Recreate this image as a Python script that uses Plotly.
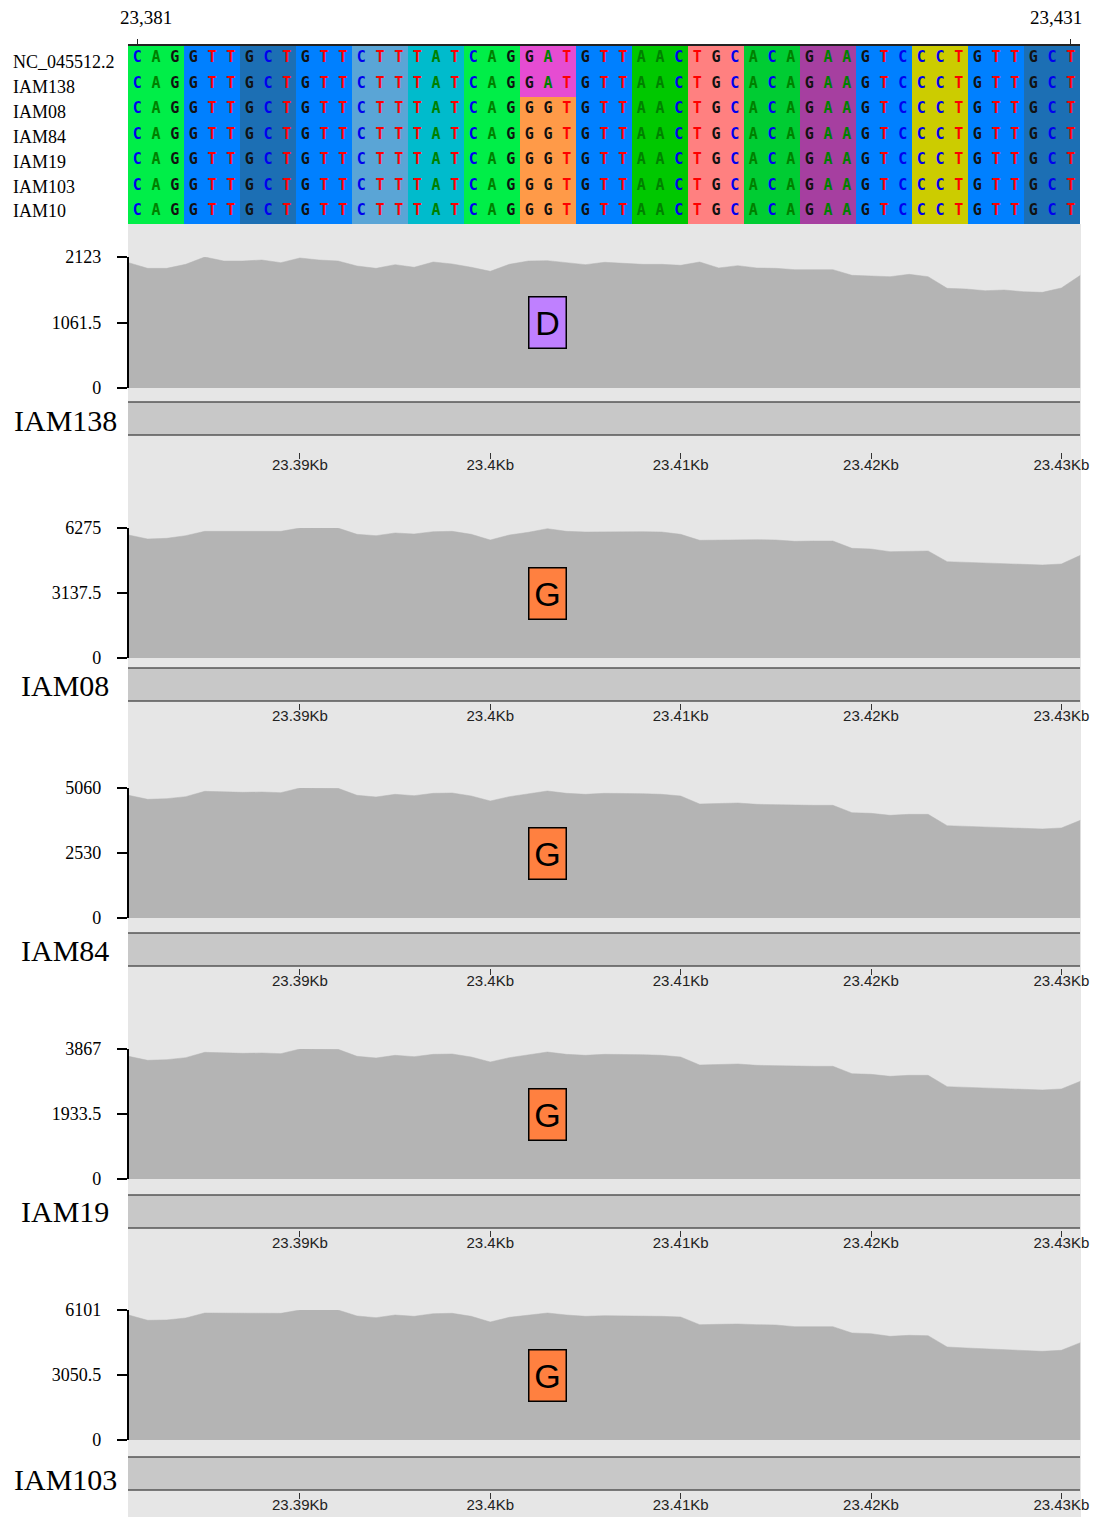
import plotly.graph_objects as go

W, H = 1096, 1517

# ---------------- data ----------------
start_pos = 23381
end_pos = 23431
row_names = ["NC_045512.2", "IAM138", "IAM08", "IAM84", "IAM19", "IAM103", "IAM10"]
ref_seq = "CAGGTTGCTGTTCTTTATCAGGATGTTAACTGCACAGAAGTCCCTGTTGCT"
alt_seq = "CAGGTTGCTGTTCTTTATCAGGGTGTTAACTGCACAGAAGTCCCTGTTGCT"
row_seqs = [ref_seq, ref_seq, alt_seq, alt_seq, alt_seq, alt_seq, alt_seq]

panel_names = ["IAM138", "IAM08", "IAM84", "IAM19", "IAM103"]
panel_max = [2123, 6275, 5060, 3867, 6101]
variant_pos = 23403
variant_aa = ["D", "G", "G", "G", "G"]
kb_ticks = [23390, 23400, 23410, 23420, 23430]
kb_labels = ["23.39Kb", "23.4Kb", "23.41Kb", "23.42Kb", "23.43Kb"]

cov_iam138 = [2031, 1939, 1939, 2004, 2123, 2058, 2058, 2074, 2031, 2107, 2074, 2058, 1977,
              1939, 1999, 1956, 2042, 2010, 1956, 1891, 2004, 2058, 2064, 2031, 1999, 2037,
              2020, 2004, 2004, 1988, 2042, 1945, 1983, 1945, 1939, 1918, 1918, 1918, 1826,
              1815, 1804, 1842, 1804, 1615, 1604, 1577, 1588, 1561, 1550, 1621, 1826]
cov_iam08 = [5937, 5744, 5776, 5905, 6114, 6114, 6114, 6114, 6114, 6275, 6270, 6270, 5969,
             5905, 6034, 5985, 6098, 6114, 5969, 5696, 5937, 6066, 6243, 6114, 6082, 6098,
             6098, 6098, 6082, 5969, 5680, 5696, 5728, 5712, 5696, 5631, 5647, 5647, 5294,
             5261, 5133, 5165, 5165, 4650, 4618, 4586, 4570, 4537, 4489, 4537, 4956]
cov_iam84 = [4775, 4619, 4645, 4723, 4930, 4904, 4891, 4904, 4878, 5060, 5060, 5047, 4775,
             4710, 4814, 4762, 4852, 4865, 4749, 4554, 4723, 4827, 4943, 4852, 4814, 4852,
             4852, 4840, 4814, 4749, 4437, 4463, 4476, 4424, 4411, 4373, 4386, 4386, 4100,
             4074, 3996, 4035, 4035, 3594, 3568, 3543, 3530, 3504, 3465, 3504, 3802]
cov_iam19 = [3649, 3530, 3550, 3609, 3768, 3748, 3738, 3748, 3728, 3867, 3867, 3857, 3649,
             3599, 3679, 3639, 3708, 3718, 3629, 3480, 3609, 3689, 3777, 3708, 3679, 3708,
             3708, 3699, 3679, 3629, 3391, 3411, 3421, 3381, 3371, 3342, 3352, 3352, 3133,
             3113, 3054, 3084, 3084, 2747, 2727, 2708, 2698, 2678, 2648, 2678, 2906]
cov_iam103 = [5866, 5616, 5632, 5726, 5960, 5960, 5960, 5960, 5945, 6101, 6101, 6101, 5819,
              5741, 5866, 5804, 5929, 5945, 5804, 5538, 5757, 5851, 5960, 5866, 5804, 5835,
              5835, 5819, 5804, 5773, 5413, 5429, 5444, 5413, 5397, 5319, 5319, 5319, 5022,
              4991, 4865, 4912, 4897, 4365, 4319, 4271, 4224, 4193, 4162, 4209, 4568]
coverage = [cov_iam138, cov_iam08, cov_iam84, cov_iam19, cov_iam103]

# ---------------- styles ----------------
codon_table = {"CAG": "Q", "GTT": "V", "GCT": "A", "CTT": "L", "TAT": "Y", "GAT": "D",
               "GGT": "G", "AAC": "N", "TGC": "C", "ACA": "T", "GAA": "E", "GTC": "V",
               "CCT": "P"}
aa_colors = {"Q": "#00ee48", "V": "#0080ff", "A": "#1c6fb4", "L": "#5aa5d6", "Y": "#00bbcc",
             "D": "#e64cd2", "G": "#ff9a48", "N": "#00c800", "C": "#ff8080", "T": "#00cc33",
             "E": "#a63fa0", "P": "#cccc00"}
nt_colors = {"A": "#008000", "C": "#0000ee", "G": "#111111", "T": "#ff0000"}
box_colors = {"D": "#bf80ff", "G": "#ff8040"}

SERIF = "Liberation Serif"
SANS = "Liberation Sans"

def fx(px):
    return px / W

def fy(py):
    return 1 - py / H

aa_list = list(aa_colors.keys())
n_aa = len(aa_list)
cscale = []
for i, a in enumerate(aa_list):
    cscale.append([i / n_aa, aa_colors[a]])
    cscale.append([(i + 1) / n_aa, aa_colors[a]])

positions = list(range(start_pos, end_pos + 1))

fig = go.Figure()

# ---------------- alignment ----------------
z = []
for seq in row_seqs:
    row = []
    for i in range(len(seq)):
        c0 = (i // 3) * 3
        aa = codon_table[seq[c0:c0 + 3]]
        row.append(aa_list.index(aa))
    z.append(row)

fig.add_trace(go.Heatmap(
    x=positions, y=list(range(len(row_seqs))), z=z,
    colorscale=cscale, zmin=-0.5, zmax=n_aa - 0.5, showscale=False,
    xaxis="x", yaxis="y", hoverinfo="skip"))

tx, ty, tt, tc = [], [], [], []
for r, seq in enumerate(row_seqs):
    for i, ch in enumerate(seq):
        tx.append(positions[i]); ty.append(r); tt.append(ch); tc.append(nt_colors[ch])
fig.add_trace(go.Scatter(
    x=tx, y=ty, text=tt, mode="text",
    textfont=dict(family="DejaVu Sans Mono", size=15, color=tc, weight="bold"),
    xaxis="x", yaxis="y", hoverinfo="skip", showlegend=False))

ALN_L, ALN_R, ALN_T, ALN_B = 128, 1080, 46, 224
layout = dict(
    width=W, height=H, margin=dict(l=0, r=0, t=0, b=0, autoexpand=False),
    paper_bgcolor="white", plot_bgcolor="rgba(0,0,0,0)", showlegend=False,
    xaxis=dict(domain=[fx(ALN_L), fx(ALN_R)], range=[start_pos - 0.5, end_pos + 0.5],
               anchor="y", side="top", showline=True, linecolor="#222", linewidth=1.5,
               ticks="outside", ticklen=5, tickcolor="#222", tickvals=[start_pos, end_pos],
               showticklabels=False, showgrid=False, zeroline=False, fixedrange=True,
               automargin=False),
    yaxis=dict(domain=[fy(ALN_B), fy(ALN_T)], range=[len(row_seqs) - 0.5, -0.5],
               anchor="x", showticklabels=False, showgrid=False, zeroline=False,
               fixedrange=True, automargin=False),
)

annotations = []
shapes = []
annotations.append(dict(text=f"{start_pos:,}", x=fx(146), y=fy(18), xref="paper", yref="paper",
                        showarrow=False, font=dict(family=SERIF, size=19, color="black"),
                        xanchor="center", yanchor="middle"))
annotations.append(dict(text=f"{end_pos:,}", x=fx(1056), y=fy(18), xref="paper", yref="paper",
                        showarrow=False, font=dict(family=SERIF, size=19, color="black"),
                        xanchor="center", yanchor="middle"))
row_y = [62, 87, 112, 137, 162, 187, 211]
for name, yy in zip(row_names, row_y):
    annotations.append(dict(text=name, x=fx(11), y=fy(yy), xref="paper", yref="paper",
                            showarrow=False, font=dict(family=SERIF, size=18, color="black"),
                            xanchor="left", yanchor="middle"))

# background of coverage area
shapes.append(dict(type="rect", xref="paper", yref="paper", x0=fx(128), x1=fx(1081),
                   y0=fy(H), y1=fy(ALN_B), fillcolor="#e6e6e6", line=dict(width=0),
                   layer="below"))

# ---------------- coverage panels ----------------
panel_top = [257, 528, 788, 1049, 1310]
panel_zero = [388, 658, 918, 1179, 1440]
band_top = [402, 668, 933, 1195, 1457]
band_bot = [435, 701, 966, 1228, 1490]
tick_line = [452, 703, 968, 1230, 1492]
label_y = [420, 685, 950, 1211, 1479]

for k in range(len(panel_names)):
    xa = f"x{k + 2}"
    ya = f"y{k + 2}"
    fig.add_trace(go.Scatter(
        x=positions, y=coverage[k], mode="lines", fill="tozeroy",
        fillcolor="#b4b4b4", line=dict(color="#b4b4b4", width=0.5),
        xaxis=xa, yaxis=ya, hoverinfo="skip"))
    m = panel_max[k]
    layout[f"xaxis{k + 2}"] = dict(
        domain=[fx(128.6), fx(1080.4)], range=[start_pos, end_pos], anchor="free",
        position=fy(tick_line[k]), side="bottom", showline=False, showgrid=False,
        zeroline=False, ticks="outside", ticklen=6, tickwidth=1, tickcolor="#333",
        tickvals=kb_ticks, ticktext=kb_labels, automargin=False, ticklabelstandoff=-7,
        tickfont=dict(family=SANS, size=15, color="#222"), fixedrange=True)
    half = m / 2
    layout[f"yaxis{k + 2}"] = dict(
        domain=[fy(panel_zero[k]), fy(panel_top[k])], range=[0, m], anchor=xa,
        showline=True, linecolor="black", linewidth=1.5, ticks="outside", ticklen=10,
        tickwidth=1.5, tickcolor="black", tickvals=[0, half, m],
        ticktext=["0", f"{half:g}", f"{m:g}"], ticklabelstandoff=12, automargin=False,
        tickfont=dict(family=SERIF, size=18, color="black"), showgrid=False,
        zeroline=False, fixedrange=True)
    # band
    shapes.append(dict(type="rect", xref="paper", yref="paper", x0=fx(128), x1=fx(1080),
                       y0=fy(band_bot[k]), y1=fy(band_top[k]), fillcolor="#c8c8c8",
                       line=dict(width=0), layer="below"))
    for yy in (band_top[k], band_bot[k]):
        shapes.append(dict(type="line", xref="paper", yref="paper", x0=fx(128), x1=fx(1080),
                           y0=fy(yy), y1=fy(yy), line=dict(color="#555", width=1.5)))
    annotations.append(dict(text=panel_names[k], x=fx(65), y=fy(label_y[k]), xref="paper",
                            yref="paper", showarrow=False,
                            font=dict(family=SERIF, size=30, color="black"),
                            xanchor="center", yanchor="middle"))
    aa = variant_aa[k]
    annotations.append(dict(text=aa, x=variant_pos, y=half, xref=xa, yref=ya,
                            showarrow=False, font=dict(family=SANS, size=34, color="black"),
                            bgcolor=box_colors[aa], bordercolor="black", borderwidth=1.5,
                            borderpad=1, width=34, height=48, xanchor="center",
                            yanchor="middle", valign="middle"))

layout["annotations"] = annotations
layout["shapes"] = shapes
fig.update_layout(**layout)

fig.write_html("out.html", config={"displayModeBar": False},
               post_script="document.body.style.margin='0';document.body.style.overflow='hidden';")
